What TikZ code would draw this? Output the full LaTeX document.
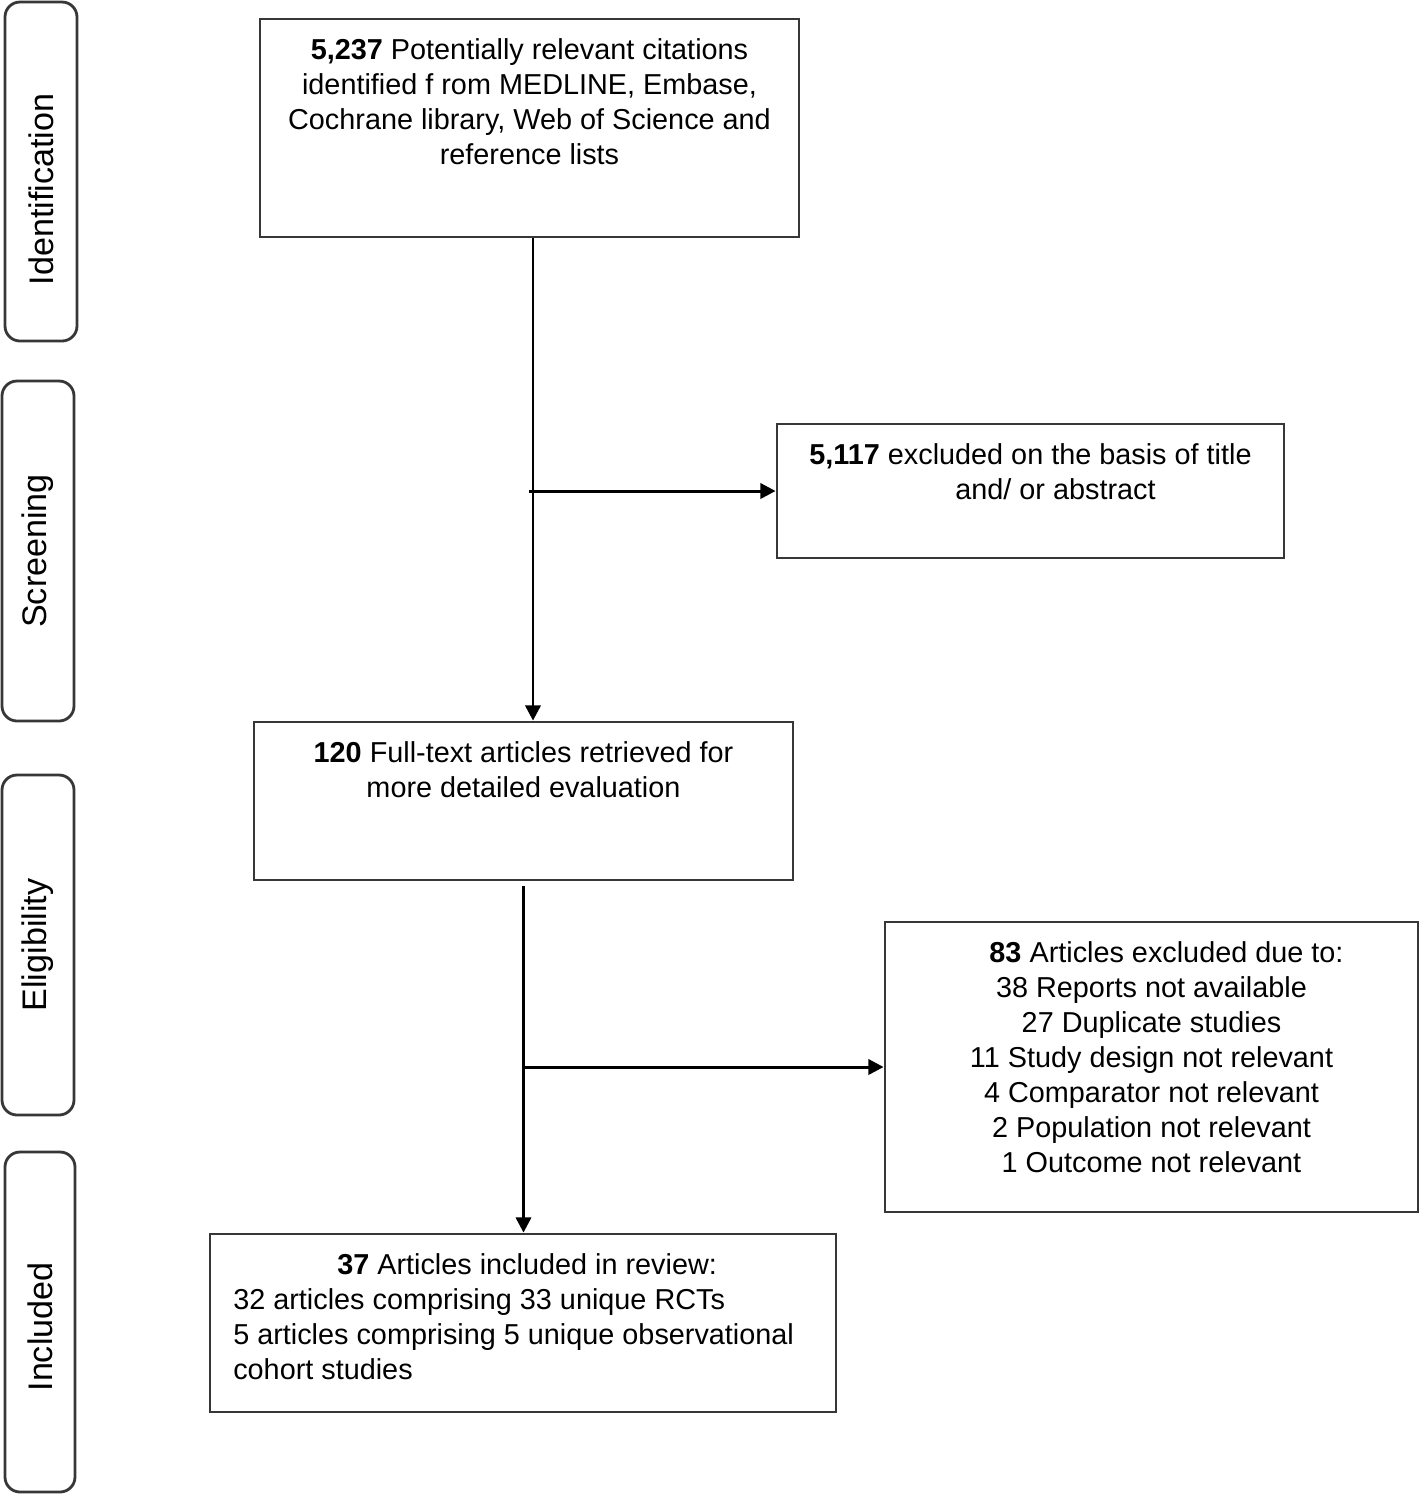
\documentclass[tikz,border=0pt]{standalone}
\usepackage{fontspec}
\setmainfont{Liberation Sans}
\usepackage{xcolor}
\usetikzlibrary{arrows.meta,positioning,calc}
\definecolor{boxline}{RGB}{55,55,55}

\begin{document}
\begin{tikzpicture}[
      box/.style={draw=boxline,line width=0.8pt,inner sep=0pt},
      stage/.style={draw=boxline,line width=0.8pt,rounded corners=0.15cm,inner sep=0pt,minimum width=0.72cm,minimum height=3.4cm},
      stagetxt/.style={rotate=90,font=\fontsize{9.7}{11}\selectfont},
      txt/.style={inner sep=0pt,align=center,font=\fontsize{8.2}{9.96}\selectfont},
      flow/.style={line width=0.85pt,-{Triangle[length=4.3pt,width=4.3pt]}}
    ]
      \useasboundingbox (0,0) rectangle (14.19,-14.94);
      % Stage boxes on the left
      \node[stage,minimum height=3.39cm] (ident) at (0.41,-1.715) {};
      \node[stagetxt] (identtxt) at ($(ident.center)+(0,-0.18)$) {Identification};
      \node[stage] (screen) at (0.38,-5.51) {};
      \node[stagetxt] (screentxt) at (screen.center) {Screening};
      \node[stage] (elig) at (0.38,-9.45) {};
      \node[stagetxt] (eligtxt) at (elig.center) {Eligibility};
      \node[stage,minimum width=0.70cm] (incl) at (0.40,-13.22) {};
      \node[stagetxt] (incltxt) at ($(incl.center)+(0,-0.05)$) {Included};
      % Flow boxes
      \node[box,minimum width=5.39cm,minimum height=2.18cm] (ident box) at (5.295,-1.28) {};
      \node[txt,anchor=north] (identt) at ($(ident box.north)+(0,-0.2)$)
        {\textbf{5,237} Potentially relevant citations\\identified f rom MEDLINE, Embase,\\Cochrane library, Web of Science and\\reference lists};
      \node[box,minimum width=5.07cm,minimum height=1.34cm] (screen box) at (10.305,-4.91) {};
      \node[txt,anchor=north] (screent) at ($(screen box.north)+(0,-0.2)$)
        {\textbf{5,117} excluded on the basis of title\\\hspace*{0.5cm}and/ or abstract};
      \node[box,minimum width=5.39cm,minimum height=1.58cm] (full box) at (5.235,-8.01) {};
      \node[txt,anchor=north] (fullt) at ($(full box.north)+(0,-0.2)$)
        {\textbf{120} Full-text articles retrieved for\\more detailed evaluation};
      \node[box,minimum width=5.33cm,minimum height=2.90cm] (excl box) at (11.515,-10.67) {};
      \node[txt,anchor=north] (exclt) at ($(excl box.north)+(0,-0.2)$)
        {\hspace*{0.3cm}\textbf{83} Articles excluded due to:\\38 Reports not available\\27 Duplicate studies\\11 Study design not relevant\\4 Comparator not relevant\\2 Population not relevant\\1 Outcome not relevant};
      \node[box,minimum width=6.26cm,minimum height=1.78cm] (incl box) at (5.23,-13.23) {};
      \node[txt,align=left,anchor=north west] (inclt) at ($(incl box.north west)+(0.24,-0.2)$)
        {\hspace*{1.04cm}\textbf{37} Articles included in review:\\32 articles comprising 33 unique RCTs\\5 articles comprising 5 unique observational\\cohort studies};
      % Connectors
      \coordinate (top out) at ($(ident box.south)+(0.035,0)$);
      \coordinate (mid out) at ($(full box.south)+(0,-0.05)$);
      \draw[flow] (top out) -- (top out |- full box.north);
      \draw[flow] ($(top out |- screen box.west)+(-0.04,0)$) -- (screen box.west);
      \draw[flow] (mid out) -- (mid out |- incl box.north);
      \draw[flow] (mid out |- excl box.west) -- (excl box.west);
    \end{tikzpicture}
\end{document}
